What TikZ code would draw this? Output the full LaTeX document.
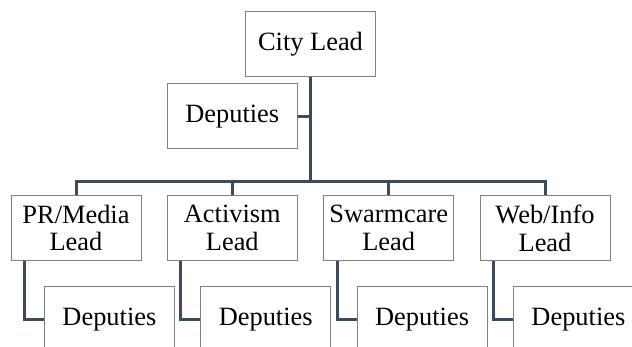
\documentclass[tikz,border=0pt]{standalone}
\usepackage{fontspec}
\setmainfont{Liberation Serif}
\usepackage{tikz}
\definecolor{lineablue}{HTML}{3D4A5C}
\definecolor{bordegris}{HTML}{7F7F7F}

\begin{document}
\begin{tikzpicture}[x=0.5pt, y=-0.5pt,
    every node/.style={draw=bordegris, line width=0.5pt, fill=white, minimum width=65pt, minimum height=32.5pt, inner sep=0pt, align=center, font=\fontsize{13.2}{13.85}\selectfont},
    conector/.style={draw=lineablue, line width=1.5pt}]
              \clip (0,0) rectangle (632,347);
              % Cajas
              \node(jefe) at (310.5,43.8) {City Lead};
              \node(dep0) at (232.3,116.2) {Deputies};
              \node(l1) at (76,228) {PR/Media\\Lead};
              \node(l2) at (232.3,228) {Activism\\Lead};
              \node(l3) at (388.7,228) {Swarmcare\\Lead};
              \node(l4) at (545,228) {Web/Info\\Lead};
              \node(d1) at (109.4,319.2) {Deputies};
              \node(d2) at (265.7,319.2) {Deputies};
              \node(d3) at (422.1,319.2) {Deputies};
              \node(d4) at (578.4,319.2) {Deputies};
              \coordinate(barra) at (310.5,181.7);
              
              % Conectores
              \draw[conector] (jefe.south) -- (barra);
              \draw[conector] (dep0.east) -- (dep0.east -| jefe.south);
              \foreach \i in {1,...,4} {
                \draw[conector] (barra) -| (l\i.north);
                \draw[conector] (l\i.south west) ++(14,0) |- (d\i.west);
              }
            \end{tikzpicture}
\end{document}
